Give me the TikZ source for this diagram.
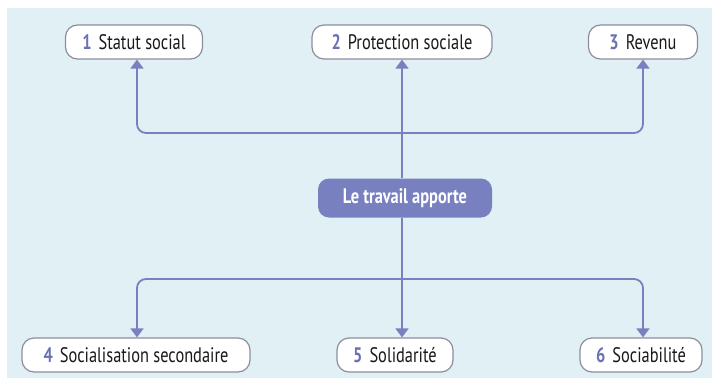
\documentclass[tikz,border=0pt]{standalone}
\usepackage{fontspec}
\setmainfont{PT Sans}[FakeStretch=0.78]
\usetikzlibrary{arrows.meta}
\definecolor{fond}{HTML}{E1F0F4}
\definecolor{lien}{HTML}{7880C0}
\definecolor{bord}{HTML}{8C8E9E}
\definecolor{chiffre}{HTML}{6A72B4}
\tikzset{
  boite/.style={draw=bord,line width=1.2pt,fill=white,rounded corners=12pt,
    minimum height=34pt,inner sep=2pt,font=\fontsize{21}{24}\selectfont,text=black!90},
  centre/.style={fill=lien,rounded corners=11pt,minimum height=39pt,minimum width=174pt,
    font=\fontsize{21}{24}\selectfont\bfseries,text=white},
  lien/.style={draw=lien,line width=1.8pt,rounded corners=9pt,
    -{Triangle[width=13pt,length=9pt]}}
}
\newcommand{\num}[1]{{\color{chiffre}\bfseries #1}\hspace{7pt}}
\begin{document}
\begin{tikzpicture}[x=1pt,y=-1pt]
\useasboundingbox (0,0) rectangle (712,378);
\fill[fond] (7,8) rectangle (712,378);

\node[boite,minimum width=137pt] (b1) at (134,42) {\num{1}Statut social};
\node[boite,minimum width=180pt] (b2) at (402,42) {\num{2}Protection sociale};
\node[boite,minimum width=109pt] (b3) at (643,42) {\num{3}Revenu};
\node[centre] (T) at (405,198) {Le travail apporte};
\node[boite,minimum width=228pt] (b4) at (136,355) {\num{4}Socialisation secondaire};
\node[boite,minimum width=116pt] (b5) at (395,355) {\num{5}Solidarité};
\node[boite,minimum width=122pt] (b6) at (641,355) {\num{6}Sociabilité};

\coordinate (h) at (402,133);
\coordinate (g) at (402,279);

\draw[lien] (T.north -| b2) -- (b2);
\draw[lien] (h) -| ([xshift=3pt]b1.south);
\draw[lien] (h) -| (b3);
\draw[lien] (T.south -| h) -- ([xshift=7pt]b5.north);
\draw[lien] (g) -| ([xshift=1pt]b4.north);
\draw[lien] (g) -| ([xshift=2pt]b6.north);
\end{tikzpicture}
\end{document}
